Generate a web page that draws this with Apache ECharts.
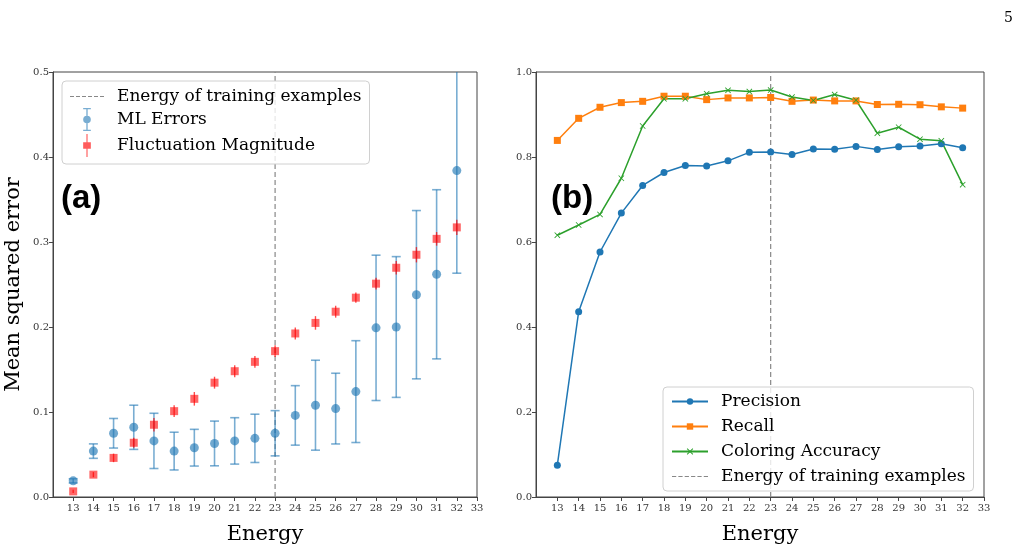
<!DOCTYPE html>
<html>
<head>
<meta charset="utf-8">
<script src="https://cdn.jsdelivr.net/npm/echarts@6/dist/echarts.min.js"></script>
<style>
  html, body { margin: 0; padding: 0; background: #fff; }
  #container { width: 1020px; height: 550px; }
</style>
</head>
<body>
<div id="container"></div>
<script>
// energies of the test sets
const energies = [13, 14, 15, 16, 17, 18, 19, 20, 21, 22, 23, 24, 25, 26, 27, 28, 29, 30, 31, 32];
const xTicks = [13, 14, 15, 16, 17, 18, 19, 20, 21, 22, 23, 24, 25, 26, 27, 28, 29, 30, 31, 32, 33];
const trainingEnergy = 23;

// (a) mean squared error
const mlErrMean = [0.019, 0.054, 0.075, 0.082, 0.066, 0.054, 0.058, 0.063, 0.066, 0.069, 0.075,
  0.096, 0.108, 0.104, 0.124, 0.199, 0.200, 0.238, 0.262, 0.384];
const mlErrStd = [0.0025, 0.0085, 0.0174, 0.026, 0.0325, 0.0222, 0.0216, 0.0263, 0.0273, 0.0284, 0.0266,
  0.035, 0.0529, 0.0416, 0.0599, 0.0855, 0.0828, 0.099, 0.0995, 0.1207];
const flucMag = [0.0066, 0.0263, 0.046, 0.0638, 0.085, 0.101, 0.1155, 0.1345, 0.148, 0.159, 0.1716,
  0.1924, 0.2048, 0.218, 0.2345, 0.251, 0.2697, 0.285, 0.3037, 0.3172];
const flucErr = [0.002, 0.003, 0.005, 0.006, 0.008, 0.007, 0.008, 0.007, 0.007, 0.007, 0.007,
  0.007, 0.008, 0.007, 0.006, 0.007, 0.008, 0.009, 0.008, 0.009];

// (b) classification scores
const precision = [0.075, 0.436, 0.5765, 0.668, 0.733, 0.7635, 0.78, 0.779, 0.791, 0.811, 0.812,
  0.806, 0.819, 0.818, 0.825, 0.8176, 0.824, 0.826, 0.831, 0.822];
const recall = [0.839, 0.891, 0.917, 0.928, 0.931, 0.943, 0.943, 0.935, 0.939, 0.939, 0.940,
  0.931, 0.934, 0.932, 0.932, 0.9235, 0.924, 0.923, 0.918, 0.915];
const coloring = [0.616, 0.640, 0.665, 0.750, 0.873, 0.937, 0.937, 0.949, 0.957, 0.954, 0.9575,
  0.941, 0.933, 0.947, 0.9335, 0.856, 0.870, 0.842, 0.838, 0.735];

const SERIF = 'DejaVu Serif';
const BLUE = '#1f77b4', ORANGE = '#ff7f0e', GREEN = '#2ca02c';
const X_MARK = 'path://M0,1 L1,0 L5,4 L9,0 L10,1 L6,5 L10,9 L9,10 L5,6 L1,10 L0,9 L4,5 Z';
const ERRBAR_ICON = 'path://M6 0 H14 V1.4 H6 Z M9.3 0 H10.7 V24 H9.3 Z M6 22.6 H14 V24 H6 Z M14 12 A4 4 0 1 1 6 12 A4 4 0 1 1 14 12 Z';
const SQ_ICON = 'path://M9.4 0 H10.6 V24 H9.4 Z M6 8.5 H14 V15.5 H6 Z';
const DASH_ICON = 'path://M0 0 H4 V1 H0 Z M6 0 H10 V1 H6 Z M12 0 H16 V1 H12 Z M18 0 H22 V1 H18 Z M24 0 H28 V1 H24 Z M30 0 H34 V1 H30 Z';

const zip = (a, b) => a.map((v, i) => [v, b[i]]);
const zip3 = (a, b, c) => a.map((v, i) => [v, b[i], c[i]]);

function errorBars(color, cap, width) {
  return function (params, api) {
    const x = api.value(0), y = api.value(1), e = api.value(2);
    const cs = params.coordSys;
    const top = api.coord([x, y + e]);
    const bot = api.coord([x, y - e]);
    const children = [];
    const y1 = Math.max(top[1], cs.y);
    const y2 = Math.min(bot[1], cs.y + cs.height);
    const st = { stroke: color, lineWidth: width };
    children.push({ type: 'line', shape: { x1: top[0], y1: y1, x2: bot[0], y2: y2 }, style: st });
    if (cap > 0) {
      if (top[1] >= cs.y) children.push({ type: 'line', shape: { x1: top[0] - cap, y1: top[1], x2: top[0] + cap, y2: top[1] }, style: st });
      if (bot[1] <= cs.y + cs.height) children.push({ type: 'line', shape: { x1: bot[0] - cap, y1: bot[1], x2: bot[0] + cap, y2: bot[1] }, style: st });
    }
    return { type: 'group', children: children };
  };
}

// vertical dashed marker for the training energy, data item = [x, yFrom, yTo]
function vLine(params, api) {
  const p1 = api.coord([api.value(0), api.value(1)]);
  const p2 = api.coord([api.value(0), api.value(2)]);
  return {
    type: 'line',
    shape: { x1: p1[0], y1: p1[1], x2: p2[0], y2: p2[1] },
    style: { stroke: '#888', lineWidth: 1.2, lineDash: [5, 3] }
  };
}

function xAxisFor(gridIndex) {
  return {
    type: 'value', gridIndex: gridIndex, min: 12, max: 33,
    name: 'Energy', nameLocation: 'middle', nameGap: 27,
    nameTextStyle: { fontFamily: SERIF, fontSize: 21, color: '#000' },
    axisLine: { lineStyle: { color: '#444', width: 1 } },
    axisTick: { length: 4, lineStyle: { color: '#444' }, customValues: xTicks },
    axisLabel: { customValues: xTicks, fontFamily: SERIF, fontSize: 10, color: '#333', margin: 6 },
    splitLine: { show: false }
  };
}

const dom = document.getElementById('container');
const myChart = echarts.init(dom, null, { renderer: 'canvas' });

const option = {
  animation: false,
  backgroundColor: '#fff',
  title: [
    { text: '(a)', left: 56, top: 177, textStyle: { fontFamily: 'Liberation Sans', fontWeight: 'bold', fontSize: 33, color: '#000' } },
    { text: '(b)', left: 546, top: 177, textStyle: { fontFamily: 'Liberation Sans', fontWeight: 'bold', fontSize: 33, color: '#000' } },
    { text: '5', left: 999, top: 6, textStyle: { fontFamily: SERIF, fontWeight: 'normal', fontSize: 14, color: '#000' } }
  ],
  grid: [
    { left: 53, top: 72, width: 424, height: 431, show: true, borderColor: '#444', borderWidth: 1 },
    { left: 536, top: 72, width: 448, height: 431, show: true, borderColor: '#444', borderWidth: 1 }
  ],
  xAxis: [xAxisFor(0), xAxisFor(1)],
  yAxis: [
    {
      type: 'value', gridIndex: 0, min: 0, max: 0.5, interval: 0.1,
      name: 'Mean squared error', nameLocation: 'middle', nameGap: 29,
      nameTextStyle: { fontFamily: SERIF, fontSize: 21, color: '#000' },
      axisLine: { show: true, lineStyle: { color: '#444' } },
      axisTick: { show: true, length: 4, lineStyle: { color: '#444' } },
      axisLabel: { fontFamily: SERIF, fontSize: 10, color: '#333', margin: 4, formatter: v => v.toFixed(1) },
      splitLine: { show: false }
    },
    {
      type: 'value', gridIndex: 1, min: 0, max: 1, interval: 0.2,
      axisLine: { show: true, lineStyle: { color: '#444' } },
      axisTick: { show: true, length: 4, lineStyle: { color: '#444' } },
      axisLabel: { fontFamily: SERIF, fontSize: 10, color: '#333', margin: 4, formatter: v => v.toFixed(1) },
      splitLine: { show: false }
    }
  ],
  legend: [
    {
      left: 62, top: 81, orient: 'vertical', selectedMode: false,
      itemWidth: 34, itemHeight: 23, itemGap: 3,
      padding: [7, 8, 7, 8],
      backgroundColor: 'rgba(255,255,255,0.8)', borderColor: '#d0d0d0', borderWidth: 1, borderRadius: 4,
      textStyle: { fontFamily: SERIF, fontSize: 17, color: '#000', padding: [0, 0, 0, 8] },
      data: [
        { name: 'Energy of training examples', icon: DASH_ICON, itemStyle: { color: '#888' } },
        { name: 'ML Errors', icon: ERRBAR_ICON, itemStyle: { color: 'rgba(31,119,180,0.75)' } },
        { name: 'Fluctuation Magnitude', icon: SQ_ICON, itemStyle: { color: 'rgba(255,0,0,0.8)' } }
      ]
    },
    {
      left: 663, top: 387, orient: 'vertical', selectedMode: false,
      itemWidth: 36, itemHeight: 8, itemGap: 8,
      padding: [6, 8, 6, 8],
      backgroundColor: 'rgba(255,255,255,0.8)', borderColor: '#d0d0d0', borderWidth: 1, borderRadius: 4,
      textStyle: { fontFamily: SERIF, fontSize: 17, color: '#000', padding: [0, 0, 0, 8] },
      data: [
        'Precision', 'Recall', 'Coloring Accuracy',
        { name: 'Energy of training examples', icon: DASH_ICON, itemStyle: { color: '#888' } }
      ]
    }
  ],
  series: [
    // panel (a)
    {
      name: 'Energy of training examples', type: 'custom', xAxisIndex: 0, yAxisIndex: 0,
      data: [[trainingEnergy, 0, 0.5]], renderItem: vLine, itemStyle: { color: '#888' }, z: 1
    },
    {
      name: 'ML Errors bars', type: 'custom', xAxisIndex: 0, yAxisIndex: 0,
      data: zip3(energies, mlErrMean, mlErrStd),
      renderItem: errorBars('rgba(31,119,180,0.6)', 4.5, 1.6), z: 2
    },
    {
      name: 'ML Errors', type: 'scatter', xAxisIndex: 0, yAxisIndex: 0,
      data: zip(energies, mlErrMean), symbol: 'circle', symbolSize: 9,
      itemStyle: { color: 'rgba(31,119,180,0.8)' }, z: 3
    },
    {
      name: 'Fluctuation bars', type: 'custom', xAxisIndex: 0, yAxisIndex: 0,
      data: zip3(energies, flucMag, flucErr),
      renderItem: errorBars('rgba(255,0,0,0.7)', 0, 1.4), z: 4
    },
    {
      name: 'Fluctuation Magnitude', type: 'scatter', xAxisIndex: 0, yAxisIndex: 0,
      data: zip(energies, flucMag), symbol: 'rect', symbolSize: 8,
      itemStyle: { color: 'rgba(255,0,0,0.75)' }, z: 5
    },
    // panel (b)
    {
      name: 'Precision', type: 'line', xAxisIndex: 1, yAxisIndex: 1,
      data: zip(energies, precision), symbol: 'circle', symbolSize: 7,
      lineStyle: { color: BLUE, width: 1.5 }, itemStyle: { color: BLUE }
    },
    {
      name: 'Recall', type: 'line', xAxisIndex: 1, yAxisIndex: 1,
      data: zip(energies, recall), symbol: 'rect', symbolSize: 7,
      lineStyle: { color: ORANGE, width: 1.5 }, itemStyle: { color: ORANGE }
    },
    {
      name: 'Coloring Accuracy', type: 'line', xAxisIndex: 1, yAxisIndex: 1,
      data: zip(energies, coloring), symbol: X_MARK, symbolSize: 6,
      lineStyle: { color: GREEN, width: 1.5 }, itemStyle: { color: GREEN }
    },
    {
      name: 'Energy of training examples', type: 'custom', xAxisIndex: 1, yAxisIndex: 1,
      data: [[trainingEnergy, 0, 1]], renderItem: vLine, itemStyle: { color: '#888' }, z: 1
    }
  ]
};

if (option && typeof option === 'object') {
  myChart.setOption(option);
}
</script>
</body>
</html>
